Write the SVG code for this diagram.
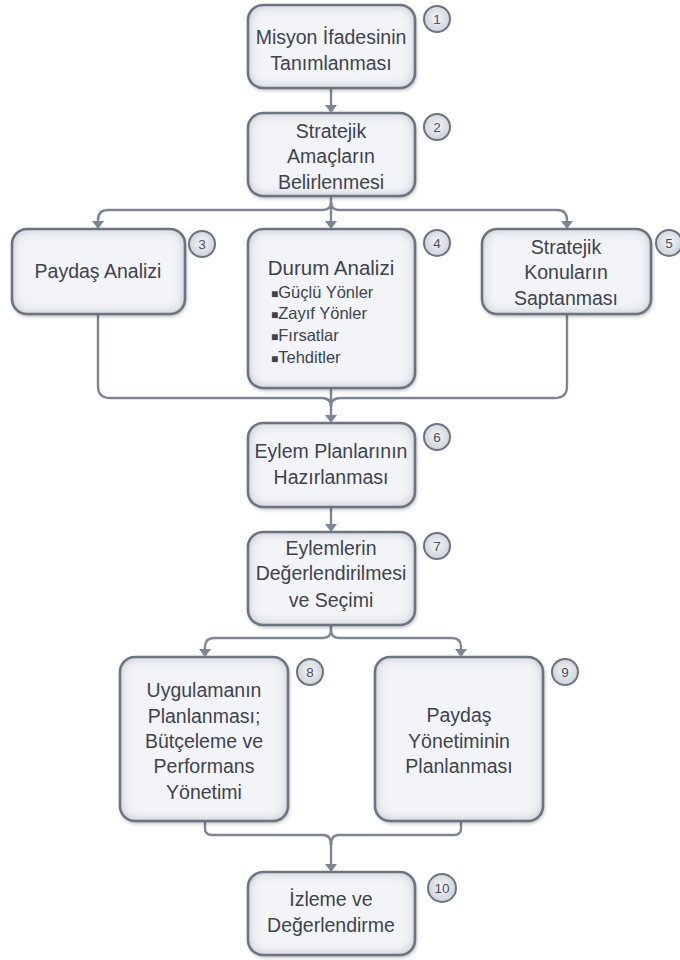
<svg xmlns="http://www.w3.org/2000/svg" width="680" height="960" viewBox="0 0 680 960">
  <style>
    .box { fill: #f3f4f7; filter: url(#glow); }
    .edge { fill: none; stroke: #6c7382; stroke-width: 2.6; }
    .lbl { font-family: "Liberation Sans", Arial, sans-serif; font-size: 19.5px; fill: #3e434d; text-anchor: middle; }
    .sub { font-family: "Liberation Sans", Arial, sans-serif; font-size: 16.5px; fill: #3e434d; }
    .mark { font-size: 12px; }
    .badge circle { fill: url(#badgeFill); stroke: #6c7382; stroke-width: 2; }
    .badge text { font-family: "Liberation Sans", Arial, sans-serif; font-size: 13.5px; fill: #4a4f59; text-anchor: middle; }
    .conn path { fill: none; stroke: #7d8595; stroke-width: 2.4; }
    .conn .tip { fill: #7d8595; stroke: none; }
  </style>
  <defs>
    <!-- inner glow for box bodies plus soft drop shadow -->
    <filter id="glow" x="-10%" y="-10%" width="125%" height="125%">
      <feFlood flood-color="#aeb5c3"/>
      <feComposite in2="SourceAlpha" operator="out"/>
      <feGaussianBlur stdDeviation="6"/>
      <feComposite in2="SourceAlpha" operator="in" result="inner"/>
      <feGaussianBlur in="SourceAlpha" stdDeviation="2"/>
      <feOffset dx="1" dy="2"/>
      <feComponentTransfer><feFuncA type="linear" slope="0.35"/></feComponentTransfer>
      <feMerge result="shadow"><feMergeNode/></feMerge>
      <feMerge>
        <feMergeNode in="shadow"/>
        <feMergeNode in="SourceGraphic"/>
        <feMergeNode in="inner"/>
      </feMerge>
    </filter>
    <radialGradient id="badgeFill" cx="50%" cy="45%" r="60%">
      <stop offset="0" stop-color="#f4f5f7"/>
      <stop offset="1" stop-color="#c9ced7"/>
    </radialGradient>
  </defs>

  <g id="connectors" class="conn">
    <!-- 1 -> 2 -->
    <path d="M331 88 V106"/>
    <path class="tip" d="M325 105 L337 105 L331 113 Z"/>
    <!-- 2 -> 3,4,5 -->
    <path d="M331 196 V222"/>
    <path d="M331 202 Q331 210 323 210 H108 Q98 210 98 220 V222"/>
    <path d="M331 202 Q331 210 339 210 H557 Q567 210 567 220 V222"/>
    <path class="tip" d="M325 221 L337 221 L331 229 Z"/>
    <path class="tip" d="M92 221 L104 221 L98 229 Z"/>
    <path class="tip" d="M561 221 L573 221 L567 229 Z"/>
    <!-- 3,4,5 -> 6 -->
    <path d="M98 314 V386 Q98 398 110 398 H321 Q331 398 331 406"/>
    <path d="M567 314 V386 Q567 398 555 398 H341 Q331 398 331 406"/>
    <path d="M331 388 V416"/>
    <path class="tip" d="M325 415 L337 415 L331 423 Z"/>
    <!-- 6 -> 7 -->
    <path d="M331 507 V525"/>
    <path class="tip" d="M325 524 L337 524 L331 532 Z"/>
    <!-- 7 -> 8,9 -->
    <path d="M331 625 V630 Q331 638 323 638 H214 Q205 638 205 647 V650"/>
    <path d="M331 625 V630 Q331 638 339 638 H452 Q461 638 461 647 V650"/>
    <path class="tip" d="M199 649 L211 649 L205 657 Z"/>
    <path class="tip" d="M455 649 L467 649 L461 657 Z"/>
    <!-- 8,9 -> 10 -->
    <path d="M205 821 V828 Q205 835 212 835 H323 Q331 835 331 845"/>
    <path d="M461 821 V828 Q461 835 454 835 H339 Q331 835 331 845"/>
    <path d="M331 843 V865"/>
    <path class="tip" d="M325 864 L337 864 L331 872 Z"/>
  </g>

  <g id="node1">
    <rect class="box" x="248" y="5" width="167" height="83" rx="15"/>
    <rect class="edge" x="248" y="5" width="167" height="83" rx="15"/>
    <text class="lbl" x="331" y="44">Misyon İfadesinin</text>
    <text class="lbl" x="331" y="70">Tanımlanması</text>
    <g class="badge"><circle cx="437" cy="19" r="13"/><text x="437" y="24">1</text></g>
  </g>

  <g id="node2">
    <rect class="box" x="248" y="113" width="167" height="83" rx="15"/>
    <rect class="edge" x="248" y="113" width="167" height="83" rx="15"/>
    <text class="lbl" x="331" y="138">Stratejik</text>
    <text class="lbl" x="331" y="163">Amaçların</text>
    <text class="lbl" x="331" y="189">Belirlenmesi</text>
    <g class="badge"><circle cx="437" cy="127" r="13"/><text x="437" y="132">2</text></g>
  </g>

  <g id="node3">
    <rect class="box" x="12" y="229" width="173" height="85" rx="15"/>
    <rect class="edge" x="12" y="229" width="173" height="85" rx="15"/>
    <text class="lbl" x="98" y="278">Paydaş Analizi</text>
    <g class="badge"><circle cx="202" cy="244" r="13"/><text x="202" y="249">3</text></g>
  </g>

  <g id="node4">
    <rect class="box" x="248" y="229" width="167" height="159" rx="15"/>
    <rect class="edge" x="248" y="229" width="167" height="159" rx="15"/>
    <text class="lbl" x="331" y="275" style="font-size:20.5px">Durum Analizi</text>
    <text class="sub" x="271" y="298"><tspan class="mark">■</tspan>Güçlü Yönler</text>
    <text class="sub" x="271" y="319"><tspan class="mark">■</tspan>Zayıf Yönler</text>
    <text class="sub" x="271" y="341"><tspan class="mark">■</tspan>Fırsatlar</text>
    <text class="sub" x="271" y="363"><tspan class="mark">■</tspan>Tehditler</text>
    <g class="badge"><circle cx="437" cy="243" r="13"/><text x="437" y="248">4</text></g>
  </g>

  <g id="node5">
    <rect class="box" x="482" y="229" width="169" height="85" rx="15"/>
    <rect class="edge" x="482" y="229" width="169" height="85" rx="15"/>
    <text class="lbl" x="566" y="254">Stratejik</text>
    <text class="lbl" x="566" y="279">Konuların</text>
    <text class="lbl" x="566" y="305">Saptanması</text>
    <g class="badge"><circle cx="669" cy="243" r="13"/><text x="669" y="248">5</text></g>
  </g>

  <g id="node6">
    <rect class="box" x="248" y="423" width="167" height="84" rx="15"/>
    <rect class="edge" x="248" y="423" width="167" height="84" rx="15"/>
    <text class="lbl" x="331" y="458">Eylem Planlarının</text>
    <text class="lbl" x="331" y="484">Hazırlanması</text>
    <g class="badge"><circle cx="437" cy="437" r="13"/><text x="437" y="442">6</text></g>
  </g>

  <g id="node7">
    <rect class="box" x="248" y="532" width="167" height="93" rx="15"/>
    <rect class="edge" x="248" y="532" width="167" height="93" rx="15"/>
    <text class="lbl" x="331" y="555">Eylemlerin</text>
    <text class="lbl" x="331" y="580">Değerlendirilmesi</text>
    <text class="lbl" x="331" y="607">ve Seçimi</text>
    <g class="badge"><circle cx="437" cy="546" r="13"/><text x="437" y="551">7</text></g>
  </g>

  <g id="node8">
    <rect class="box" x="120" y="657" width="168" height="164" rx="15"/>
    <rect class="edge" x="120" y="657" width="168" height="164" rx="15"/>
    <text class="lbl" x="204" y="697">Uygulamanın</text>
    <text class="lbl" x="204" y="723">Planlanması;</text>
    <text class="lbl" x="204" y="748">Bütçeleme ve</text>
    <text class="lbl" x="204" y="773">Performans</text>
    <text class="lbl" x="204" y="799">Yönetimi</text>
    <g class="badge"><circle cx="310" cy="672" r="13"/><text x="310" y="677">8</text></g>
  </g>

  <g id="node9">
    <rect class="box" x="375" y="657" width="168" height="164" rx="15"/>
    <rect class="edge" x="375" y="657" width="168" height="164" rx="15"/>
    <text class="lbl" x="459" y="722">Paydaş</text>
    <text class="lbl" x="459" y="748">Yönetiminin</text>
    <text class="lbl" x="459" y="773">Planlanması</text>
    <g class="badge"><circle cx="565" cy="672" r="13"/><text x="565" y="677">9</text></g>
  </g>

  <g id="node10">
    <rect class="box" x="248" y="872" width="167" height="83" rx="15"/>
    <rect class="edge" x="248" y="872" width="167" height="83" rx="15"/>
    <text class="lbl" x="331" y="906">İzleme ve</text>
    <text class="lbl" x="331" y="932">Değerlendirme</text>
    <g class="badge"><circle cx="442" cy="888" r="14"/><text x="442" y="893">10</text></g>
  </g>
</svg>
